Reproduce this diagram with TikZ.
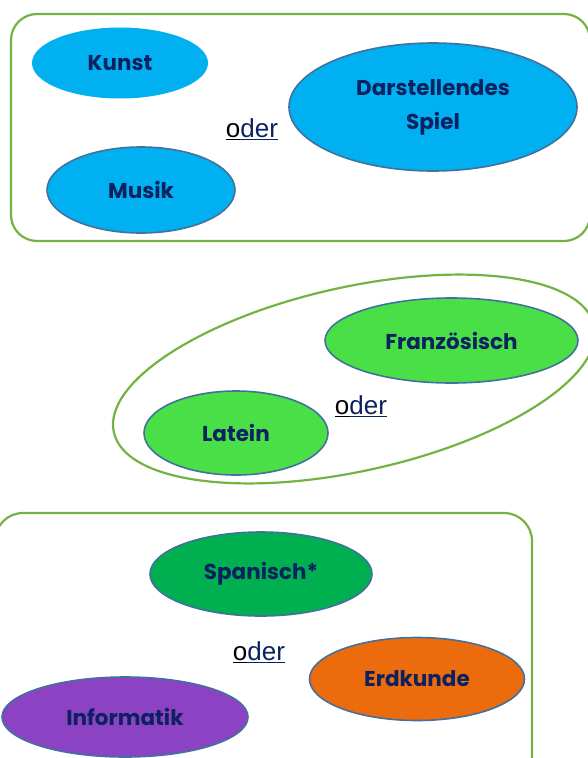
\documentclass[tikz,border=0pt]{standalone}
\usepackage{fontspec}
\setmainfont{Liberation Sans}
\newfontfamily\comicfont{Poppins}
\usetikzlibrary{shapes.geometric}
\definecolor{navy}{HTML}{0B2160}
\definecolor{boxgreen}{HTML}{74B244}
\definecolor{edgeblue}{HTML}{41719C}
\definecolor{skyblue}{HTML}{00B0F0}
\definecolor{lightgreen}{HTML}{4ADF47}
\definecolor{darkgreen}{HTML}{00B050}
\definecolor{orangefill}{HTML}{EC6B0D}
\definecolor{purplefill}{HTML}{8B42C3}
\tikzset{
  subj/.style={ellipse, inner sep=0pt, draw=edgeblue, line width=1.6pt,
    text=navy, font=\comicfont\bfseries\fontsize{21.5}{34}\selectfont, align=center},
  group/.style={draw=boxgreen, line width=2.2pt},
  oder/.style={text=navy, font=\fontsize{26}{30}\selectfont, inner sep=0pt}
}
\newcommand{\oderword}{{\color{black}\underline{o}}\underline{der}}
\begin{document}
\begin{tikzpicture}[x=1pt,y=-1pt]
\useasboundingbox (0,0) rectangle (587,758);
% group 1
\draw[group, rounded corners=26pt] (11,14) rectangle (590,241);
\node[subj, fill=skyblue, draw=none, minimum width=176pt, minimum height=71pt] (kunst) at (120,63) {Kunst};
\node[subj, fill=skyblue, minimum width=188pt, minimum height=86pt] (musik) at (141,190) {Musik};
\node[subj, fill=skyblue, minimum width=288pt, minimum height=128pt] (ds) at (433,107) {Darstellendes\\Spiel};
\node[oder] (oder1) at (252,129) {\oderword};
% group 2
\node[group, ellipse, minimum width=492pt, minimum height=184pt, rotate=12.5] (sprache) at (354,379) {};
\node[subj, fill=lightgreen, minimum width=253pt, minimum height=85pt] (franz) at (451.5,340.5) {Französisch};
\node[subj, fill=lightgreen, minimum width=184pt, minimum height=84pt] (latein) at (236,433) {Latein};
\node[oder] (oder2) at (361,406) {\oderword};
% group 3
\draw[group, rounded corners=28pt] (-5,513) rectangle (532,790);
\node[subj, fill=darkgreen, minimum width=222pt, minimum height=84pt] (spanisch) at (261,574) {Spanisch*};
\node[subj, fill=orangefill, minimum width=215pt, minimum height=83pt] (erdkunde) at (417,679) {Erdkunde};
\node[subj, fill=purplefill, minimum width=246pt, minimum height=80pt] (info) at (125,717) {Informatik};
\node[oder] (oder3) at (259,652) {\oderword};
\end{tikzpicture}
\end{document}
